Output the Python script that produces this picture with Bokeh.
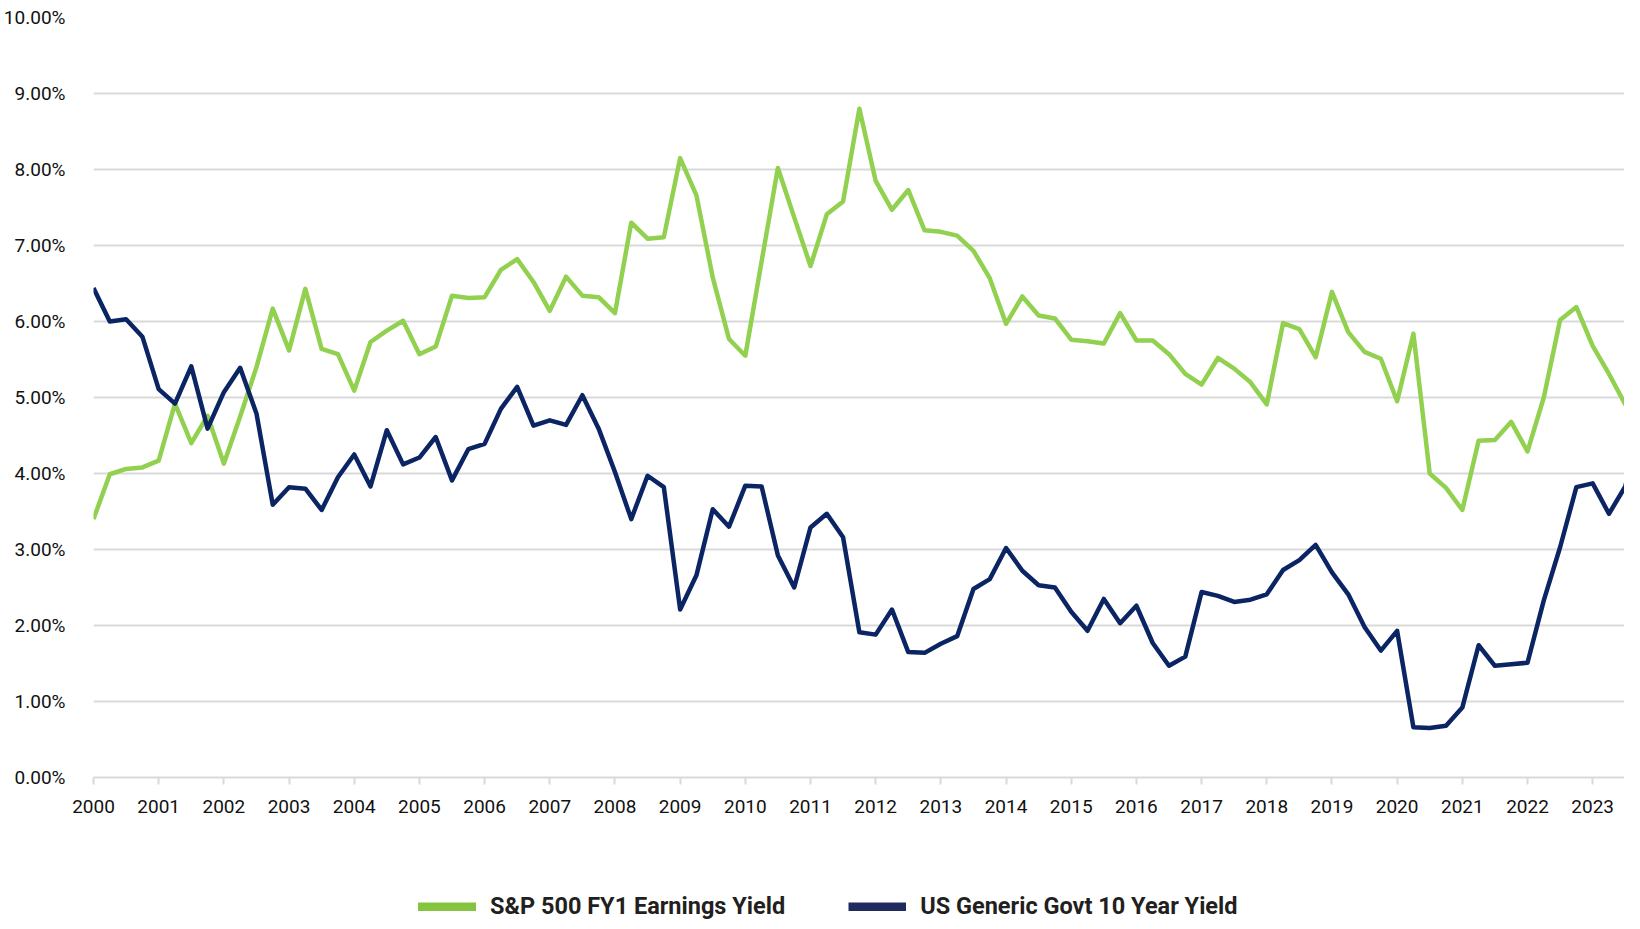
from bokeh.plotting import figure
from bokeh.layouts import column
from bokeh.models import (FixedTicker, PrintfTickFormatter, Range1d, Legend, LegendItem,
                          ColumnDataSource)
from bokeh.embed import file_html
from bokeh.resources import INLINE

start_year = 2000
year_ticks = list(range(2000, 2024))
y_ticks = [0, 1, 2, 3, 4, 5, 6, 7, 8, 9, 10]

sp500_earnings_yield = [
    3.40, 3.99, 4.06, 4.08,
    4.17, 4.92, 4.40, 4.76,
    4.13, 4.75, 5.40, 6.17,
    5.62, 6.43, 5.64, 5.57,
    5.09, 5.73, 5.88, 6.01,
    5.57, 5.67, 6.34, 6.31,
    6.32, 6.68, 6.82, 6.52,
    6.14, 6.59, 6.34, 6.32,
    6.11, 7.30, 7.09, 7.11,
    8.15, 7.66, 6.58, 5.77,
    5.55, 6.79, 8.02, 7.37,
    6.73, 7.41, 7.58, 8.80,
    7.85, 7.47, 7.73, 7.20,
    7.18, 7.13, 6.93, 6.57,
    5.97, 6.33, 6.08, 6.04,
    5.76, 5.74, 5.71, 6.11,
    5.75, 5.75, 5.57, 5.31,
    5.17, 5.52, 5.38, 5.20,
    4.91, 5.98, 5.90, 5.53,
    6.39, 5.86, 5.60, 5.51,
    4.95, 5.84, 4.00, 3.81,
    3.52, 4.43, 4.44, 4.68,
    4.29, 5.00, 6.02, 6.19,
    5.68, 5.31, 4.91, 5.10,
]

us_10y_yield = [
    6.44, 6.00, 6.03, 5.80,
    5.11, 4.92, 5.41, 4.59,
    5.07, 5.39, 4.79, 3.59,
    3.82, 3.80, 3.52, 3.95,
    4.25, 3.83, 4.57, 4.12,
    4.21, 4.48, 3.91, 4.32,
    4.39, 4.85, 5.14, 4.63,
    4.70, 4.64, 5.03, 4.59,
    4.02, 3.40, 3.97, 3.82,
    2.21, 2.66, 3.53, 3.30,
    3.84, 3.83, 2.92, 2.50,
    3.29, 3.47, 3.16, 1.91,
    1.88, 2.21, 1.65, 1.64,
    1.76, 1.86, 2.48, 2.61,
    3.02, 2.72, 2.53, 2.50,
    2.18, 1.93, 2.35, 2.03,
    2.26, 1.77, 1.47, 1.59,
    2.44, 2.39, 2.31, 2.34,
    2.41, 2.73, 2.86, 3.06,
    2.70, 2.41, 1.98, 1.67,
    1.93, 0.66, 0.65, 0.68,
    0.92, 1.74, 1.47, 1.49,
    1.51, 2.33, 3.03, 3.82,
    3.87, 3.47, 3.83, 4.75,
]

series_names = ["S&P 500 FY1 Earnings Yield", "US Generic Govt 10 Year Yield"]

GREEN = "#92d050"
NAVY = "#0b2463"
FONT = "Roboto"

quarter_x = [start_year + 0.25 * i for i in range(len(sp500_earnings_yield))]

src = ColumnDataSource(dict(x=quarter_x, sp=sp500_earnings_yield, ty=us_10y_yield))

p = figure(width=1624, height=850, output_backend="svg", toolbar_location=None,
           x_range=Range1d(2000, 2000 + (1632 - 90) / 65.65),
           y_range=Range1d(0, 10),
           min_border_left=82, min_border_right=0, min_border_top=17, min_border_bottom=73)
p.outline_line_color = None
p.background_fill_color = "white"
p.border_fill_color = "white"

r_sp = p.line("x", "sp", source=src, line_color=GREEN, line_width=4.5, line_join="round")
r_ty = p.line("x", "ty", source=src, line_color=NAVY, line_width=4.5, line_join="round")

# x axis
xa = p.xaxis[0]
xa.ticker = FixedTicker(ticks=year_ticks)
xa.axis_line_color = "#d9d9d9"
xa.axis_line_width = 2
xa.major_tick_line_color = "#d9d9d9"
xa.major_tick_line_width = 2
xa.major_tick_out = 7
xa.major_tick_in = 0
xa.minor_tick_line_color = None
xa.major_label_text_font = FONT
xa.major_label_text_font_size = "19px"
xa.major_label_text_color = "#111111"
xa.major_label_standoff = 15

ya = p.yaxis[0]
ya.ticker = FixedTicker(ticks=y_ticks)
ya.formatter = PrintfTickFormatter(format="%.2f%%")
ya.axis_line_color = None
ya.major_tick_line_color = None
ya.minor_tick_line_color = None
ya.major_label_text_font = FONT
ya.major_label_text_font_size = "19px"
ya.major_label_text_color = "#111111"
ya.major_label_standoff = 22

p.xgrid.grid_line_color = None
p.ygrid.ticker = FixedTicker(ticks=y_ticks)
p.ygrid.grid_line_color = "#d9d9d9"
p.ygrid.grid_line_width = 2

# legend strip below the chart
lg = figure(width=1624, height=71, output_backend="svg", toolbar_location=None,
            x_range=Range1d(0, 1), y_range=Range1d(0, 1), min_border=0)
lg.outline_line_color = None
lg.axis.visible = False
lg.grid.visible = False
d_sp = lg.line([-5, -4], [-5, -5], line_color="#84c441", line_width=9, line_cap="round")
d_ty = lg.line([-5, -4], [-5, -5], line_color="#1f2a5e", line_width=9, line_cap="butt")

legend = Legend(items=[LegendItem(label=series_names[0], renderers=[d_sp]),
                       LegendItem(label=series_names[1], renderers=[d_ty])],
                orientation="horizontal", location=(325, 1),
                glyph_width=58, glyph_height=9, label_standoff=14, spacing=63,
                padding=0, margin=0, border_line_alpha=0, background_fill_alpha=0,
                label_text_font=FONT, label_text_font_style="bold",
                label_text_font_size="23.5px", label_text_color="#231f20")
lg.add_layout(legend, "center")

layout = column(p, lg, spacing=0)
open("out.html", "w").write(file_html(layout, INLINE))
